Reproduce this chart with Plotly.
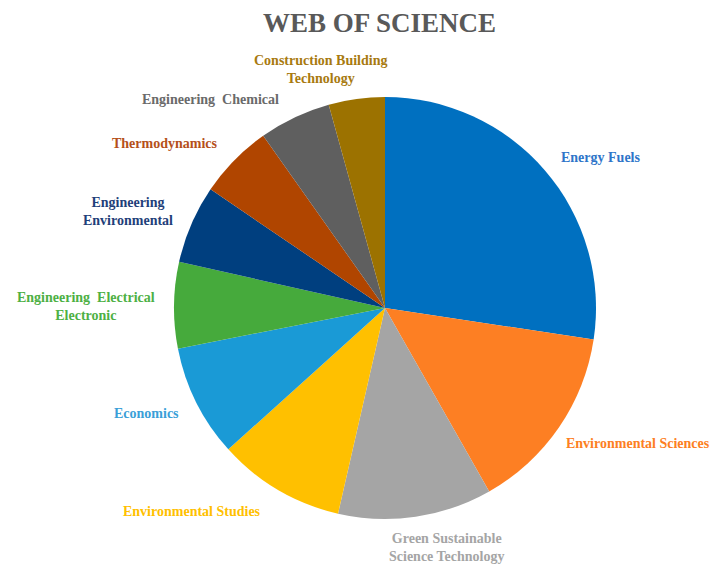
import plotly.graph_objects as go

categories = [
    "Energy Fuels",
    "Environmental Sciences",
    "Green Sustainable Science Technology",
    "Environmental Studies",
    "Economics",
    "Engineering Electrical Electronic",
    "Engineering Environmental",
    "Thermodynamics",
    "Engineering Chemical",
    "Construction Building Technology",
]
values = [27.4, 14.4, 11.8, 9.75, 8.6, 6.6, 6.0, 5.7, 5.5, 4.3]
label_texts = [
    "Energy Fuels",
    "Environmental Sciences",
    "Green Sustainable<br>Science Technology",
    "Environmental Studies",
    "Economics",
    "Engineering  Electrical<br>Electronic",
    "Engineering<br>Environmental",
    "Thermodynamics",
    "Engineering  Chemical",
    "Construction Building<br>Technology",
]

# styling
colors = ["#0070C0", "#FD7F23", "#A5A5A5", "#FFC000", "#1A9AD6",
          "#46AA3C", "#003F7F", "#B04500", "#5F5F5F", "#9C7200"]
text_colors = ["#2E75C9", "#FD7F23", "#A5A5A5", "#FFC000", "#3A9FD8",
               "#4DB044", "#1F3F7A", "#B5501A", "#6A6A6A", "#A87A10"]
# label anchor points in window pixels and horizontal anchors
label_px = [(600, 157), (712, 443), (447, 547), (192, 511), (146, 413),
            (86, 306), (128, 212), (165, 143), (210, 100), (320, 70)]
label_anchor = ["center", "right", "center", "center", "center",
                "center", "center", "center", "center", "center"]

OFF = 8  # page body margin
W, H = 726 - OFF, 564 - OFF
FONT = "Liberation Serif"


def px_x(x):
    return (x - OFF) / W


def px_y(y):
    return 1 - (y - OFF) / H


fig = go.Figure(go.Pie(
    labels=categories,
    values=values,
    sort=False,
    direction="clockwise",
    rotation=0,
    marker=dict(colors=colors, line=dict(width=0)),
    textinfo="none",
    hoverinfo="label+value",
    domain=dict(x=[px_x(174), px_x(596)], y=[px_y(519), px_y(97)]),
    showlegend=False,
))

annotations = []
for txt, col, (px, py), anc in zip(label_texts, text_colors, label_px, label_anchor):
    annotations.append(dict(
        text="<b>" + txt + "</b>", x=px_x(px), y=px_y(py),
        xref="paper", yref="paper", xanchor=anc, yanchor="middle",
        showarrow=False, align="center",
        font=dict(family=FONT, size=14, color=col),
    ))
annotations.append(dict(
    text="<b>WEB OF SCIENCE</b>", x=px_x(380), y=px_y(23),
    xref="paper", yref="paper", xanchor="center", yanchor="middle",
    showarrow=False, font=dict(family=FONT, size=27, color="#595959"),
))

fig.update_layout(
    width=W, height=H,
    margin=dict(l=0, r=0, t=0, b=0),
    paper_bgcolor="white", plot_bgcolor="white",
    annotations=annotations,
)

fig.write_html("out.html")
